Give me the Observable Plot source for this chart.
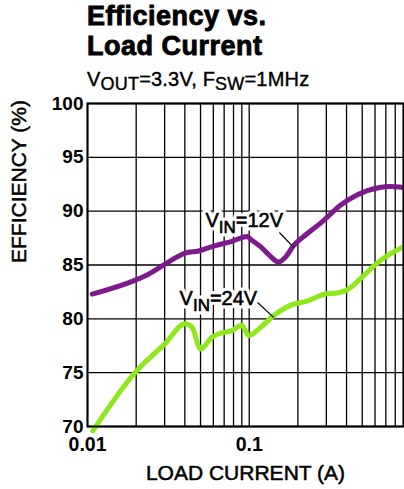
<!DOCTYPE html>
<html><head><meta charset="utf-8">
<script src="https://cdn.jsdelivr.net/npm/d3@7"></script>
<script src="https://cdn.jsdelivr.net/npm/@observablehq/plot@0.6"></script>
<style>
body{margin:0;background:#fff;font-family:"Liberation Sans",Arial,sans-serif;color:#000;}
#wrap{position:relative;width:404px;height:489px;overflow:hidden;background:#fff;}
.title{position:absolute;left:87px;top:1px;font-size:27px;font-weight:bold;line-height:30px;white-space:nowrap;-webkit-text-stroke:0.9px #000;letter-spacing:0.5px;}
.sub{position:absolute;left:87px;top:67px;font-size:20px;line-height:24px;white-space:nowrap;-webkit-text-stroke:0.4px #000;letter-spacing:0.2px;}
.sub sub{font-size:18px;vertical-align:baseline;position:relative;top:4px;}
#chart{position:absolute;left:0;top:90px;}
</style></head><body>
<div id="wrap">
  <div class="title" id="title"></div>
  <div class="sub" id="subtitle"></div>
  <div id="chart"></div>
</div>
<script>
// ---- data ----
const titleLines = ["Efficiency vs.", "Load Current"];
const subtitleHtml = "V<sub>OUT</sub>=3.3V, F<sub>SW</sub>=1MHz";
const xLabel = "LOAD CURRENT (A)";
const yLabel = "EFFICIENCY (%)";

const current12 = [0.0107, 0.0198, 0.0228, 0.0303, 0.0402, 0.0486, 0.0617, 0.0781, 0.097, 0.1019, 0.1175, 0.1355, 0.152, 0.167, 0.188, 0.228, 0.287, 0.363, 0.464, 0.64, 0.74, 0.9];
const eff12    = [82.3,   83.6,   84.0,   85.1,   86.1,   86.3,   86.8,   87.2,   87.65, 87.4,   86.7,   85.8,   85.27, 85.7,  86.8,  87.9,  89.1,  90.5,  91.5,  92.2, 92.3, 92.2];

const current24 = [0.0108, 0.0198, 0.0302, 0.0402, 0.0444, 0.05, 0.059, 0.0646, 0.078, 0.0901, 0.0993, 0.1175, 0.142, 0.1795, 0.228, 0.296, 0.35, 0.404, 0.486, 0.61, 0.74, 0.9];
const eff24    = [69.6,   75.05,  77.7,   79.55,  79.2,   77.2, 78.3,  78.6,   78.9,  79.4,   78.45,  79.2,   80.3,  81.25,  81.65, 82.3,  82.4, 82.7,  83.7,  85.1, 86.0, 86.7];

const yTicks = [70, 75, 80, 85, 90, 95, 100];
const xTickValues = [0.01, 0.1];
const xTickLabels = ["0.01", "0.1"];
const xGrid = [0.01,0.02,0.03,0.04,0.05,0.06,0.07,0.08,0.09,0.1,0.2,0.3,0.4,0.5,0.6,0.7,0.8,0.9];

const labelNames = ["V_{IN}=12V", "V_{IN}=24V"];
const labelX = [0.0536, 0.0371];
const labelY = [88.49, 81.24];
const leaderX1 = [0.1537, 0.1127];
const leaderY1 = [88.02, 81.52];
const leaderX2 = [0.1883, 0.1415];
const leaderY2 = [86.63, 80.13];

const purple = "#7d1a8c";
const green = "#8ee81c";

// ---- build ----
document.getElementById("title").innerHTML = titleLines.join("<br>");
document.getElementById("subtitle").innerHTML = subtitleHtml;

const s12 = current12.map((c, i) => ({current: c, eff: eff12[i]}));
const s24 = current24.map((c, i) => ({current: c, eff: eff24[i]}));
const labels = labelNames.map((t, i) => ({t, x: labelX[i], y: labelY[i]}));
const leaders = leaderX1.map((x1, i) => ({x1, y1: leaderY1[i], x2: leaderX2[i], y2: leaderY2[i]}));
const xTick = xTickValues.map((v, i) => ({v, label: xTickLabels[i]}));

const font = '"Liberation Sans", Arial, sans-serif';

const plot = Plot.plot({
  width: 404, height: 399,
  marginLeft: 87, marginRight: 1, marginTop: 13, marginBottom: 63,
  style: {fontFamily: font, background: "white", overflow: "visible", color: "black"},
  x: {type: "log", domain: [0.01, 0.9], axis: null},
  y: {domain: [70, 100], axis: null},
  marks: [
    Plot.ruleX(xGrid, {stroke: "black", strokeWidth: 1.3}),
    Plot.ruleY(yTicks, {stroke: "black", strokeWidth: 1.3}),
    Plot.line(s12, {x: "current", y: "eff", stroke: purple, strokeWidth: 5, curve: "monotone-x", strokeLinejoin: "round"}),
    Plot.line(s24, {x: "current", y: "eff", stroke: green, strokeWidth: 5, curve: "monotone-x", strokeLinejoin: "round"}),
    Plot.link(leaders, {x1: "x1", y1: "y1", x2: "x2", y2: "y2", stroke: "black", strokeWidth: 1.2}),
    Plot.text(labels, {x: "x", y: "y", text: "t", textAnchor: "start", lineAnchor: "bottom", fontSize: 20, fill: "white", stroke: "white", strokeWidth: 7, paintOrder: "stroke"}),
    Plot.text(labels, {x: "x", y: "y", text: "t", textAnchor: "start", lineAnchor: "bottom", fontSize: 20, fill: "black", stroke: "black", strokeWidth: 0.6}),
    Plot.frame({stroke: "black", strokeWidth: 2}),
    Plot.axisY(yTicks, {tickSize: 0, tickPadding: 4, fontSize: 19, fontWeight: "bold", label: null}),
    Plot.text(xTick, {x: "v", text: "label", frameAnchor: "bottom", dy: 11, lineAnchor: "top", fontSize: 19.5, fontWeight: "bold", fill: "black"}),
    Plot.text([yLabel], {frameAnchor: "left", dx: -68, dy: -2, rotate: -90, fontSize: 21, fill: "black", stroke: "black", strokeWidth: 0.5}),
    Plot.text([xLabel], {frameAnchor: "bottom", dy: 47, lineAnchor: "middle", fontSize: 21, fill: "black", stroke: "black", strokeWidth: 0.5})
  ]
});

// subscript handling for labels like V_{IN}=12V
d3.select(plot).selectAll("text").each(function() {
  const t = this.textContent;
  const m = /^(.*?)_\{(.*?)\}(.*)$/.exec(t);
  if (!m) return;
  const el = d3.select(this);
  el.text(null);
  el.append("tspan").text(m[1]);
  el.append("tspan").attr("font-size", "17px").attr("dy", 6).text(m[2]);
  el.append("tspan").attr("dy", -6).text(m[3]);
});

document.getElementById("chart").appendChild(plot);
</script>
</body></html>
